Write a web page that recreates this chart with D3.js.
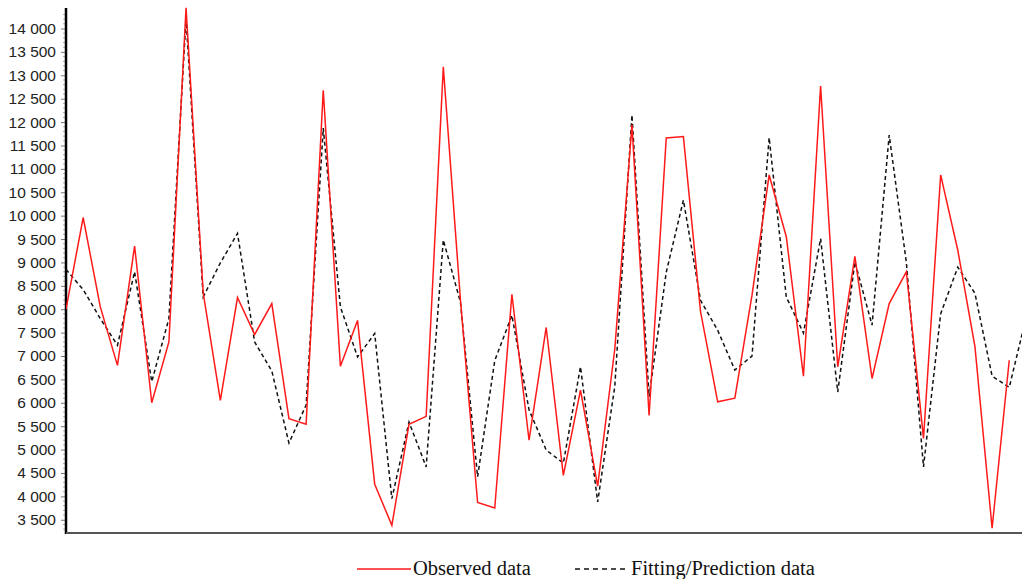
<html>
<head>
<meta charset="utf-8">
<script src="https://cdn.jsdelivr.net/npm/d3@7"></script>
<style>
  body { margin: 0; background: #fff; }
  svg { display: block; }
</style>
</head>
<body>
<svg id="chart" width="1022" height="579"></svg>
<script>

// observed series (one value per time step)
const observed = [
  8000, 9960, 8050, 6800, 9350, 6000, 7300, 14440, 8350, 6050,
  8250, 7460, 8120, 5660, 5540, 12680, 6780, 7760, 4260, 3380,
  5540, 5710, 13180, 8200, 3870, 3750, 8320, 5200, 7610, 4450,
  6270, 4220, 7150, 11940, 5730, 11660, 11690, 7950, 6020, 6100,
  8300, 10870, 9550, 6570, 12770, 6770, 9130, 6520, 8120, 8800,
  5240, 10870, 9260, 7200, 3320, 6910
];

// fitting / prediction series (one step longer than observed)
const fitted = [
  8850, 8420, 7800, 7230, 8800, 6450, 7800, 14220, 8260, 8990,
  9620, 7300, 6680, 5140, 5950, 11870, 8050, 6980, 7480, 3950,
  5590, 4630, 9480, 8150, 4420, 6900, 7870, 5850, 4990, 4710,
  6770, 3880, 6350, 12150, 6130, 8790, 10330, 8190, 7550, 6700,
  7000, 11670, 8260, 7490, 9510, 6230, 9010, 7660, 11720, 9000,
  4630, 7900, 8900, 8340, 6570, 6330, 7850
];

const yTicks = [3500, 4000, 4500, 5000, 5500, 6000, 6500, 7000, 7500, 8000,
  8500, 9000, 9500, 10000, 10500, 11000, 11500, 12000, 12500, 13000, 13500, 14000];

const legendLabels = ["Observed data", "Fitting/Prediction data"];

const svg = d3.select("#chart");

const plot = { left: 66, right: 1022, top: 8, bottom: 533 };

const x = d3.scaleLinear()
  .domain([0, 56])
  .range([plot.left, plot.left + 56 * 17.15]);

const y = d3.scaleLinear()
  .domain([3217, 14438])
  .range([plot.bottom, plot.top]);

const locale = d3.formatLocale({ decimal: ".", thousands: "\u00a0", grouping: [3], currency: ["", ""] });
const fmt = locale.format(",");

svg.append("defs").append("clipPath")
  .attr("id", "clip")
  .append("rect")
  .attr("x", plot.left)
  .attr("y", 0)
  .attr("width", plot.right - plot.left)
  .attr("height", plot.bottom);

// minor ticks on y axis
const minor = d3.range(3300, 14400, 100).filter(v => v % 500 !== 0);
svg.append("g")
  .selectAll("line")
  .data(minor)
  .enter()
  .append("line")
  .attr("x1", plot.left - 3)
  .attr("x2", plot.left)
  .attr("y1", d => y(d))
  .attr("y2", d => y(d))
  .attr("stroke", "#aaa")
  .attr("stroke-width", 1);

// y axis
const yAxis = d3.axisLeft(y)
  .tickValues(yTicks)
  .tickFormat(fmt)
  .tickSize(4)
  .tickSizeOuter(0)
  .tickPadding(5);

const gy = svg.append("g")
  .attr("transform", `translate(${plot.left - 1},0)`)
  .call(yAxis);

gy.select(".domain").remove();
gy.selectAll(".tick line").attr("stroke", "#777");
gy.selectAll(".tick text")
  .attr("font-family", "'Liberation Sans', Arial, sans-serif")
  .attr("font-size", "15.5px")
  .attr("fill", "#222");

svg.append("line")
  .attr("x1", plot.left)
  .attr("x2", plot.left)
  .attr("y1", plot.top)
  .attr("y2", plot.bottom + 1)
  .attr("stroke", "#000")
  .attr("stroke-width", 2.5);

// x axis (no labels)
svg.append("line")
  .attr("x1", plot.left)
  .attr("x2", plot.right)
  .attr("y1", plot.bottom)
  .attr("y2", plot.bottom)
  .attr("stroke", "#555")
  .attr("stroke-width", 2);

const line = d3.line()
  .x((d, i) => x(i))
  .y(d => y(d));

const lines = svg.append("g").attr("clip-path", "url(#clip)");

lines.append("path")
  .datum(fitted)
  .attr("d", line)
  .attr("fill", "none")
  .attr("stroke", "#111")
  .attr("stroke-width", 1.5)
  .attr("stroke-dasharray", "4,3");

lines.append("path")
  .datum(observed)
  .attr("d", line)
  .attr("fill", "none")
  .attr("stroke", "#ff1a1a")
  .attr("stroke-width", 1.5);

// legend
const legend = svg.append("g");
const legendY = 569;

legend.append("line")
  .attr("x1", 357).attr("x2", 411)
  .attr("y1", legendY).attr("y2", legendY)
  .attr("stroke", "#ff1a1a")
  .attr("stroke-width", 1.5);

legend.append("text")
  .attr("x", 413)
  .attr("y", 574.5)
  .attr("font-family", "'Liberation Serif', 'Times New Roman', serif")
  .attr("font-size", "20.5px")
  .attr("fill", "#111")
  .text(legendLabels[0]);

legend.append("line")
  .attr("x1", 575).attr("x2", 629)
  .attr("y1", legendY).attr("y2", legendY)
  .attr("stroke", "#111")
  .attr("stroke-width", 1.3)
  .attr("stroke-dasharray", "5,4");

legend.append("text")
  .attr("x", 631)
  .attr("y", 574.5)
  .attr("font-family", "'Liberation Serif', 'Times New Roman', serif")
  .attr("font-size", "20.5px")
  .attr("fill", "#111")
  .text(legendLabels[1]);

</script>
</body>
</html>
